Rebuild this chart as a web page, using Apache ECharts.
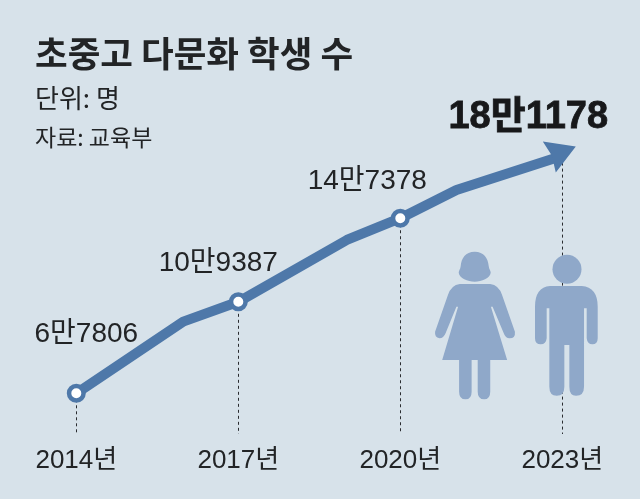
<!DOCTYPE html>
<html><head><meta charset="utf-8">
<style>html,body{margin:0;padding:0;background:#d7e2ea}#c{width:640px;height:499px}</style>
<script src="https://cdn.jsdelivr.net/npm/echarts@6/dist/echarts.min.js"></script>
</head><body><div id="c"></div>
<script>
const titleText = '초중고 다문화 학생 수';
const unitText = '단위: 명';
const sourceText = '자료: 교육부';
const years = [2014, 2017, 2020, 2023];
const students = [67806, 109387, 147378, 181178];
const valueLabels = ['6만7806', '10만9387', '14만7378', '18만1178'];
// path of the drawn line (includes its bends and the shaft end under the arrowhead)
const lineYears = [2014, 2015.98, 2017, 2019.01, 2020, 2021.04, 2022.96];
const lineValues = [67806, 100400, 109387, 137500, 147378, 160200, 175400];

const FONT = '"Liberation Sans","Noto Sans CJK KR",sans-serif';
const KFONT = '"Noto Sans CJK KR","Liberation Sans",sans-serif';
const BLUE = '#4e78a9', FIG = '#8fa8c9', INK = '#222426';
const labelOffsets = [[10,-59],[-20,-39],[-33,-37],[-36,-39]];

const manPath = 'M690 618L785 618Q833 622 833 680L833 775Q833 793 817 793Q802 793 800 775L800 685L792 685L792 920Q792 947 768 947Q748 947 748 920L748 795L733 795L733 920Q733 947 710 947Q688 947 688 920L688 685L680 685L680 775Q678 793 662 793Q645 793 645 775L645 680Q645 622 690 618Z';
const womanHead = 'M464 515C492 515 504 535 506 558C507 568 512 572 512 578C510 594 485 605 464 605C443 605 418 594 416 578C416 572 421 568 422 558C424 535 436 515 464 515Z';
const womanBody = 'M420 612L510 612Q535 615 545 645L583 755Q585 775 567 775Q555 775 550 760L517 680L512 680L560 840L510 840L510 935Q510 958 492 958Q473 958 473 935L473 840L455 840L455 935Q455 958 437 958Q418 958 418 935L418 840L368 840L415 680L410 680L378 760Q372 775 360 775Q345 772 347 755L385 645Q395 615 420 612Z';
const pic = (d, x, y, w, h) => ({type:'path', shape:{pathData:d, x, y, width:w, height:h, layout:'cover'}, style:{fill:FIG}});

const chart = echarts.init(document.getElementById('c'), null, {renderer:'canvas'});
chart.setOption({
  animation:false,
  backgroundColor:'#d7e2ea',
  title:[
    {text:titleText,left:30,top:31,textStyle:{fontFamily:KFONT,fontSize:35.5,fontWeight:'bold',color:INK}},
    {text:unitText,left:30,top:80,textStyle:{fontFamily:KFONT,fontSize:26,fontWeight:'normal',color:INK}},
    {text:sourceText,left:30,top:121,textStyle:{fontFamily:KFONT,fontSize:23,fontWeight:'normal',color:INK}}
  ],
  grid:{left:0,right:0,top:0,bottom:65},
  xAxis:{type:'value',min:2012.587,max:2024.439,splitLine:{show:false},axisLine:{show:false},axisTick:{show:false},
    axisLabel:{customValues:years,formatter:v=>v+'년',margin:14,fontFamily:FONT,fontSize:26,color:INK}},
  yAxis:{type:'value',min:49306,max:246579,show:false,splitLine:{show:false}},
  series:[
    {type:'line',z:1,data:[],markLine:{z:1,silent:true,symbol:'none',label:{show:false},
      lineStyle:{color:'#2a2c30',type:[3,3],width:1},
      data:years.map((y,i)=>[{coord:[y,Math.min(students[i],lineValues[lineValues.length-1])]},{coord:[y,49306]}])}},
    {type:'custom',z:2,coordinateSystem:'none',data:[0],silent:true,renderItem:()=>({type:'group',children:[
      pic(womanHead,458.7,251.7,32,30),
      pic(womanBody,435,284,80,115.3),
      {type:'circle',shape:{cx:567,cy:269.3,r:14.5},style:{fill:FIG}},
      pic(manPath,535,286,62.7,109.7)
    ]})},
    {type:'line',z:3,data:lineYears.map((y,i)=>[y,lineValues[i]]),symbol:'none',silent:true,
      lineStyle:{color:BLUE,width:10,join:'round',cap:'round'}},
    {type:'scatter',z:4,silent:true,
      data:years.map((y,i)=>{
        const last = i===years.length-1;
        return {
          value:[y,students[i]],
          symbol:last?'path://M544 141L577 146L557 172L553 155Z':'circle',
          symbolSize:last?[33,31]:14.5,
          symbolOffset:last?[-3,13]:[0,0],
          itemStyle:last?{color:BLUE,borderWidth:0,opacity:1}:{color:'#ffffff',borderColor:BLUE,borderWidth:4.5,opacity:1},
          label:{show:true,formatter:valueLabels[i],position:'inside',offset:last?[-31,-39]:labelOffsets[i],
            fontFamily:FONT,color:last?'#17181a':INK,fontSize:last?38:28,fontWeight:last?'bold':'normal',
            textBorderColor:last?'#17181a':'transparent',textBorderWidth:last?0.8:0,opacity:1}
        };
      })}
  ]
});
</script></body></html>
